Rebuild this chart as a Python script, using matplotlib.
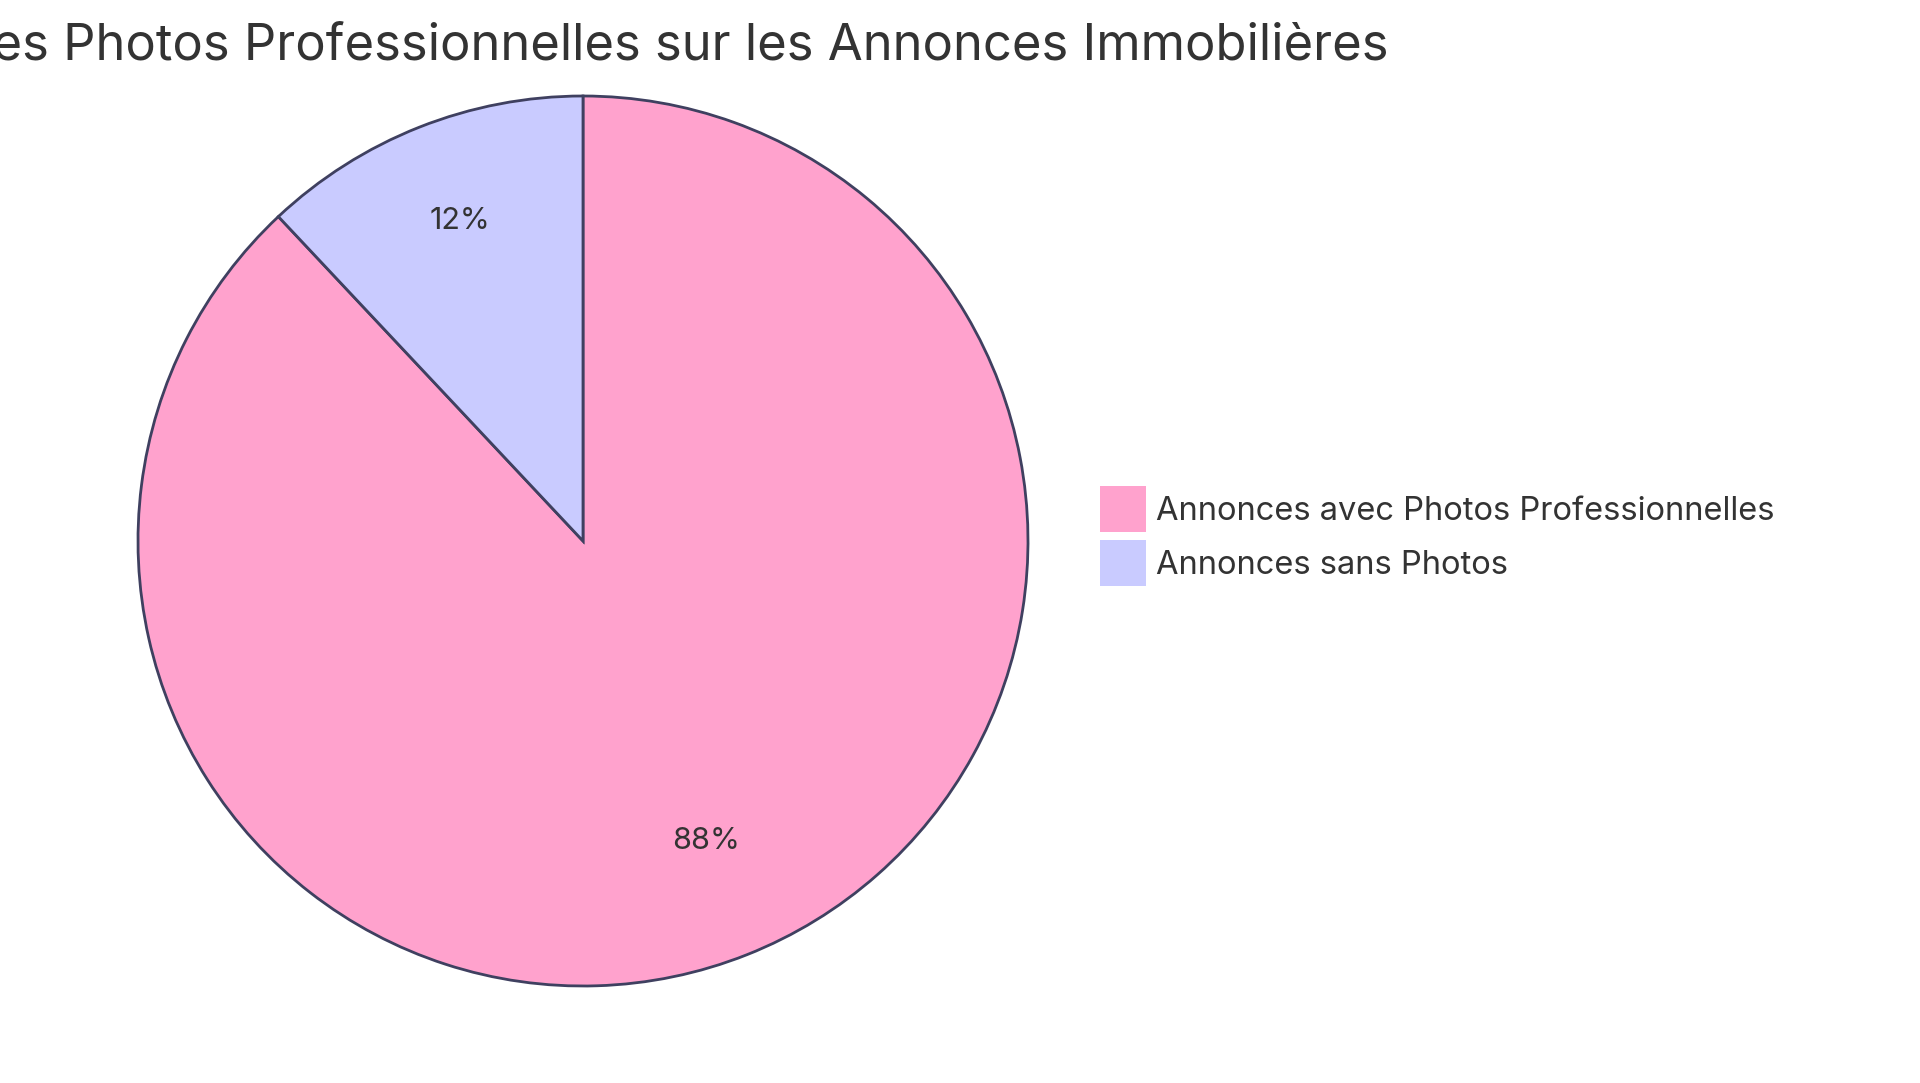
"""
Camembert : impact des photos professionnelles sur les annonces immobilières
"""

import matplotlib
matplotlib.use("Agg")
import matplotlib.pyplot as plt
from matplotlib.transforms import offset_copy

plt.rcParams['font.family'] = ['Inter', 'DejaVu Sans']

# Données
categories = ['Annonces avec Photos Professionnelles', 'Annonces sans Photos']
valeurs = [88, 12]
couleurs = ['#FFA2CD', '#C9CBFF']
titre = "Impact des Photos Professionnelles sur les Annonces Immobilières"

W, H = 1920, 1083
fig = plt.figure(figsize=(W / 100, H / 100), dpi=100)

# Position du camembert (en pixels)
cx, cy, r = 583, 541, 445
ax = fig.add_axes([(cx - r) / W, (H - cy - r) / H, 2 * r / W, 2 * r / H])

wedges, texts, autotexts = ax.pie(
    valeurs,
    colors=couleurs,
    startangle=90,
    counterclock=False,
    autopct='%1.0f%%',
    pctdistance=0.75,
    wedgeprops=dict(edgecolor='#3F4060', linewidth=2.0),
    textprops=dict(color='#333333', fontsize=22),
)
# petit décalage vertical des pourcentages
for t in autotexts:
    t.set_transform(offset_copy(t.get_transform(), fig=fig, y=10, units='dots'))
ax.set_xlim(-1, 1)
ax.set_ylim(-1, 1)
ax.set_aspect('equal')

# Titre (coupé à gauche comme l'original)
fig.text(1389 / W, 1 - 60 / H, titre, ha='right', va='baseline',
         fontsize=36.5, color='#333333')

# Légende
leg = fig.legend(wedges, categories, loc='upper left',
                 bbox_to_anchor=(1100 / W, 1 - 486 / H),
                 frameon=False, fontsize=23.5, labelcolor='#333333',
                 handlelength=1.41, handleheight=1.79, handletextpad=0.3,
                 labelspacing=0.25, borderaxespad=0, borderpad=0)
for h in leg.legend_handles:
    h.set_edgecolor('none')

plt.savefig('out.png', dpi=100)
